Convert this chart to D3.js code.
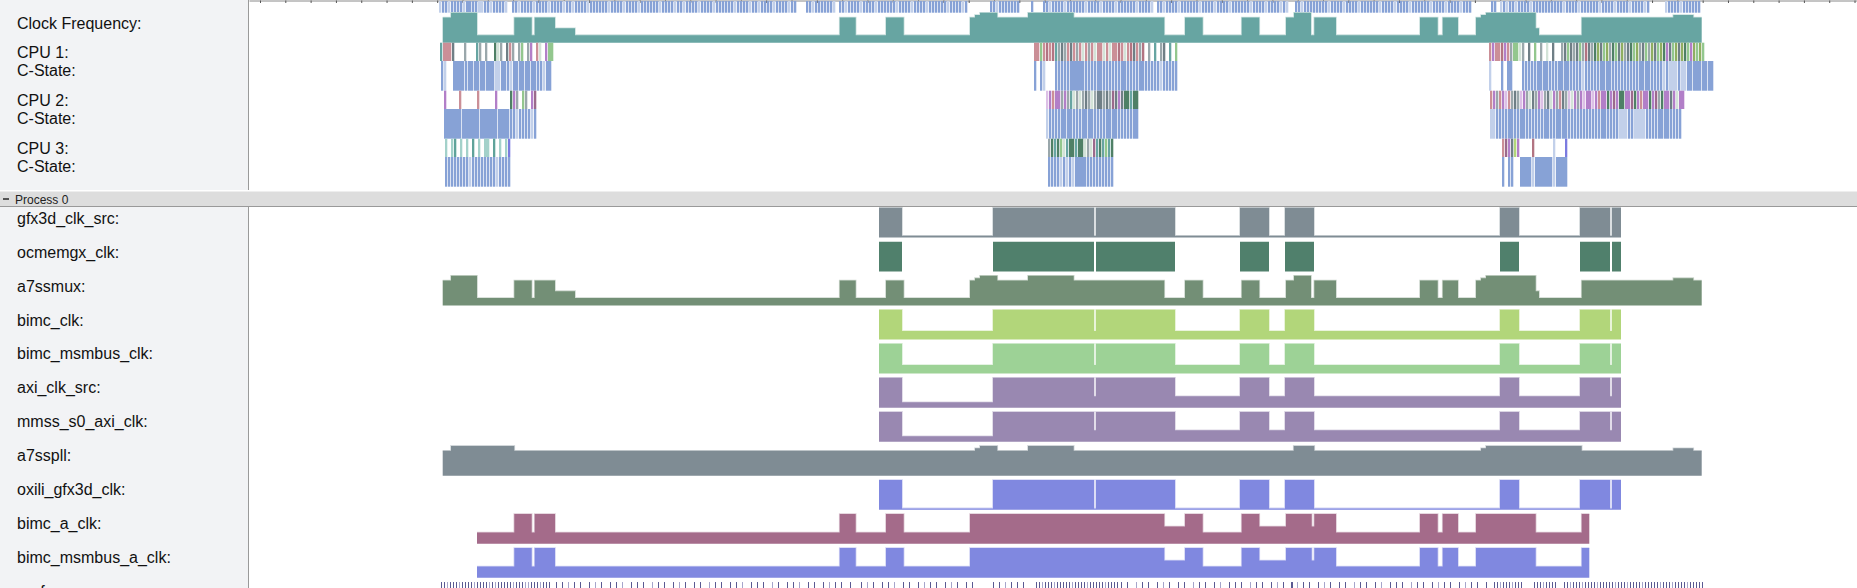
<!DOCTYPE html>
<html><head><meta charset="utf-8">
<script src="https://cdn.jsdelivr.net/npm/d3@7"></script>
<style>
html,body{margin:0;padding:0;background:#fff;overflow:hidden}
svg{display:block;font-family:"Liberation Sans",Arial,sans-serif}
</style></head><body>
<svg id="c" width="1857" height="588"></svg>
<script>
// ---------------- DATA (time in ms from view start) ----------------
const cpuNames = ["CPU 1:", "CPU 2:", "CPU 3:"];
const cstateName = "C-State:";
const clockName = "Clock Frequency:";
const processName = "Process 0";
const counterNames = ["gfx3d_clk_src:", "ocmemgx_clk:", "a7ssmux:", "bimc_clk:", "bimc_msmbus_clk:",
  "axi_clk_src:", "mmss_s0_axi_clk:", "a7sspll:", "oxili_gfx3d_clk:", "bimc_a_clk:", "bimc_msmbus_a_clk:", "perf:"];

// Clock frequency (MHz), step values; times has one more entry (end)
const clockFreqTimes = [193.7,202,228,265.3,282.7,285.7,306,326,590.7,606.7,637,654.7,721,726,731,748.3,779,824.7,915.3,936,953.7,992.7,1010.3,1037,1045,1062,1065.3,1087,1171,1188.7,1193.7,1209,1227,1232,1237,1286.7,1290,1332.7,1424.3,1444.3,1452.7];
const clockFreqMHz = [998,1190,300,998,300,998,576,300,998,300,998,300,998,1094,1190,998,1190,998,300,998,300,998,300,998,1190,300,998,300,998,300,998,300,998,1094,1190,576,300,998,1094,998];

// GPU related clocks share the same change points
const gpuTimes = [630,653,744,845,847,926,991,1020,1036,1065,1251,1270,1331,1361,1363,1372];
const gfx3dClkSrc   = [100,5.5,100,5.5,100,5.5,100,5.5,100,5.5,100,5.5,100,5.5,100];
const ocmemgxClk    = [100,0,100,0,100,0,100,0,100,0,100,0,100,0,100];
const bimcClk       = [100,29,100,29,100,29,100,29,100,29,100,29,100,29,100];
const bimcMsmbusClk = [100,29,100,29,100,29,100,29,100,29,100,29,100,29,100];
const axiClkSrc     = [100,18,100,38,100,38,100,38,100,38,100,38,100,38,100];
const mmssS0AxiClk  = [100,18,100,38,100,38,100,38,100,38,100,38,100,38,100];
const oxiliGfx3dClk = [100,4.5,100,4.5,100,4.5,100,4.5,100,4.5,100,4.5,100,4.5,100];

const a7ssmuxTimes = [193.7,202,228,265.3,282.7,285.7,306,326,590.7,606.7,637,654.7,721,726,731,748.3,779,824.7,915.3,936,953.7,992.7,1010.3,1037,1045,1062,1065.3,1087,1171,1188.7,1193.7,1209,1227,1232,1237,1286.7,1290,1332.7,1424.3,1444.3,1452.7];
const a7ssmuxMHz = [998,1190,300,998,300,998,576,300,998,300,998,300,998,1094,1190,998,1190,998,300,998,300,998,300,998,1190,300,998,300,998,300,998,300,998,1094,1190,576,300,998,1094,998];

const a7ssplTimes = [193.7,202,265.3,726,731,748.3,779,824.7,1044.7,1065.3,1232,1237,1332.7,1424.3,1444.3,1452.7];
const a7ssplMHz = [998,1190,998,1094,1190,998,1190,998,1190,998,1094,1190,998,1094,998];

const bimcATimes = [228,265.3,282.7,285.7,306,590.7,606.7,637,654.7,721,915.3,936,953.7,992.7,1010.3,1037,1062.7,1065.3,1087,1171,1188.7,1193.7,1209,1227,1286.7,1332.7,1340.3];
const bimcAClk       = [38,100,38,100,38,100,38,100,38,100,58,100,38,100,58,100,58,100,38,100,38,100,38,100,38,100];
const bimcMsmbusAClk = [38,100,38,100,38,100,38,100,38,100,58,100,38,100,58,100,58,100,38,100,38,100,38,100,38,100];

// Slice rows: [start ms, one char per 3 ms bucket]  ('.' = nothing)
const BUCKET = 3;
const cpuActivity = [
  [190, "lbBlbBbBlbbBbllbBlbBbBl"],
  [263, "bBlbBbBlbBbBlbBbBlbBlbBbBlbBbBbBlbBbBlbBbBlbBbBbBlbBbBlbBlbBbBlbBbBlbBbBbBlbBbBlbBlbBbBlbBbBlbB"],
  [557, "bBlbBbBbBl.bBlbBbBlbBbBlbBbBbBlbBbBlbBbBlbBbBbBlbBbBlb"],
  [741, "bBlbBbBbBb"],
  [782, "b"],
  [794, "bBlbBbBlbBbBbBlbBbBlbBbBlbBbBbBlbBbBl.bBlbBbBlbBbBbBlbBbBlbBbBlbBbBbBlbBbBlbBbBlbl"],
  [1046, "bBlbBbBbBbBlbBbBlbBbBlbBbBbBlbBbBlbBbBlbBbBbBlbBbBlbBbBlbBb"],
  [1242, "bB.lblbBlbBbBlbBbBbBbBbBlbBbBlbBbBbBlbBbBlbBbBlbBbBlb.....lbBbBlbBbBbB"]
];
const cpuStates = [
  [[191, "tpppk...a...ta.a..GLa.kpa.ag.av.pL.vgg"],
   [785, "ppgprprtakapkpapLpapLppLpLpprpLprkpar.a.t.ak.t.g"],
   [1240, "pvpprvpaggLa.k.g.a.L.k..akgkakgarkaGokgoaGgkoakGgoakgaokgoGvkgokoGgvogog"]],
  [[195, "v....p.....p.....v....Gva.ga.vm"],
   [797, "wvpvvavatLaLakaLakkakamkvkGGtGG"],
   [1241, "pvapvwpakawvaLkavwakLvapkawLvavwvvwvpvvGvmvGGvvmGvpvvGvmaGvvkvLvv"]],
  [[196, "c.cT.c.c.T.c.cc.T.c.cI"],
   [799, "aGtGgLtGGtGGLaLmtGtgtG"],
   [1253, "pmvkyv....r......l...I"]]
];
const cpuCStates = [
  [[192, "bl..bbbbBbbBBbbBBBllbbBlbbBBbbBBbBlbb"],
   [785, "b.bl...bBbBbBBBBBbBbBbbBbBbBbBBbBbBbbBbBbBlbBbBb"],
   [1240, "l...b.BB...bBbBbBBbbBbBbbBBbBbBlbBbBbBBbbBbBbBbBbBbbBBbBbBlblllbllbbBBBbbBB"]],
  [[195, "bbbbbbBBBBBBbbbbbbBBBBbBlbBbBlb"],
   [797, "lbBbBbbBBbBbBBbbBbBbBBbbBbBbBbb"],
   [1241, "llbBbBbbBbBBbBbBbBbbBbBBbbBbBbBbBbBbBbbBbBblllbBllllBbBbBBbbBbBb"]],
  [[196, "bBbBbBbBlbBbBbBbBlbBbB"],
   [799, "bBbBlblblbbbbBbBbBbBbB"],
   [1253, "b.bB..bbbblBBBBBBlbbbb"]]
];
const perfInstants = [
  [191, "||:|||:||||:||||:|:|||||:|||::|||:|||"],
  [306, "|.|.:.|.|..|.:.|..|.|.:..|.|.|..:.|.|..|.:.|..|.|..:.|.|..|.|.:..|.|.|..:.|..|.|.:..|.|..|.:.|.|..|."],
  [611, "|.:.|..|.|.:..|.|..|.:.|.|..|.:.|..|.|."],
  [743, "|.|.:.|.|.|."],
  [786, "||:|||:|||||:||||:|||||:||||"],
  [871, "|.|..:.|.|..|.:.|..|.|..:.|.|..|.:..|.|.|..:.|.|..|.:.|..|"],
  [1041, "|.:.|.|..|.:.|..|.|..:.|.|..|.:..|.|.|..:.|.|..|.:.|.|..|.:.|.|..|."],
  [1244, "||:|||:|||"],
  [1284, "|||:||||"],
  [1314, "||:|||:||||:|||||:|||:||||:|||||:|||:||||:|||||"]
];
const rulerTicks = d3.range(11, 1608, 25.31);

// ---------------- STYLE ----------------
const sliceColors = {b:"#87a2d6",B:"#87a2d6",l:"#c2d0ea",p:"#cb8f97",r:"#b27482",v:"#b27fc8",w:"#dcc0e6",
  g:"#93c78e",G:"#4f8066",t:"#67a5a2",a:"#9aa7ab",k:"#6f7f86",o:"#8fae62",y:"#b2d67a",L:"#d3e3d8",
  m:"#9b6a8c",c:"#a3d1ca",T:"#5fa39a",I:"#7b7be0"};

const svg = d3.select("#c");
const x = d3.scaleLinear().domain([0, 1608]).range([249, 1857]);

// left panels
svg.append("rect").attr("x",0).attr("y",0).attr("width",248).attr("height",190).attr("fill","#f2f3f5");
svg.append("rect").attr("x",0).attr("y",207).attr("width",248).attr("height",381).attr("fill","#f2f3f5");
svg.append("line").attr("x1",248.5).attr("x2",248.5).attr("y1",0).attr("y2",190).attr("stroke","#9a9a9a");
svg.append("line").attr("x1",248.5).attr("x2",248.5).attr("y1",207).attr("y2",588).attr("stroke","#9a9a9a");

// ruler
const ruler = svg.append("g").attr("transform","translate(0,0.5)")
  .call(d3.axisBottom(x).tickValues(rulerTicks).tickSize(2.5).tickSizeOuter(0).tickFormat(""));
ruler.select(".domain").attr("stroke","#8a8a8a");
ruler.selectAll(".tick line").attr("stroke","#555");

const plot = svg.append("g");

function drawSlices(segs, top, h){
  segs.forEach(([t0, s]) => {
    let i = 0;
    while (i < s.length) {
      const ch = s[i]; let j = i + 1;
      while (j < s.length && s[j] === ch) j++;
      if (ch !== ".") {
        const xa = x(t0 + i*BUCKET), xb = x(t0 + j*BUCKET);
        plot.append("rect").attr("x", xa).attr("y", top)
          .attr("width", Math.max(0.6, xb - xa - 0.7)).attr("height", h)
          .attr("fill", sliceColors[ch]);
      }
      i = j;
    }
  });
}

function drawCounter(times, values, top, h, color, maxV){
  const y = d3.scaleLinear().domain([0, maxV]).range([top + h, top]);
  const pts = times.map((t, i) => ({t, v: values[Math.min(i, values.length - 1)]}));
  const halo = d3.interpolateRgb(color, "#ffffff")(0.65);
  if (values.every(v => v > 0)) {
    const line = d3.line().x(d => x(d.t)).y(d => y(d.v)).curve(d3.curveStepAfter);
    plot.append("path").attr("d", line(pts)).attr("fill","none").attr("stroke", halo).attr("stroke-width", 1.6);
  }
  const area = d3.area().x(d => x(d.t)).y0(top + h).y1(d => y(d.v)).curve(d3.curveStepAfter);
  plot.append("path").attr("d", area(pts)).attr("fill", color);
}

// top section
drawSlices(cpuActivity, 1, 11.7);
drawCounter(clockFreqTimes, clockFreqMHz, 12.7, 30, "#67a5a2", 1190);
for (let c = 0; c < 3; c++) {
  drawSlices(cpuStates[c], 42.7 + 48*c, 18.3);
  drawSlices(cpuCStates[c], 61 + 48*c, 29.7);
}

// labels top
const lab = svg.append("g").attr("font-size", 16).attr("fill", "#111");
lab.append("text").attr("x",17).attr("y",29).text(clockName);
cpuNames.forEach((n, c) => {
  lab.append("text").attr("x",17).attr("y",58.3 + 48*c).text(n);
  lab.append("text").attr("x",17).attr("y",76 + 48*c).text(cstateName);
});

// process header
svg.append("rect").attr("x",0).attr("y",191.5).attr("width",1857).attr("height",15.5).attr("fill","#dddddd");
svg.append("line").attr("x1",0).attr("x2",1857).attr("y1",206.5).attr("y2",206.5).attr("stroke","#999");
svg.append("rect").attr("x",3).attr("y",198).attr("width",6).attr("height",2).attr("fill","#555");
svg.append("text").attr("x",15).attr("y",203.5).attr("font-size",12).attr("fill","#222").text(processName);

// process counters
const trackTop = i => 207.7 + 34.03*i;
const TH = 29.8;
const counters = [
  [gpuTimes, gfx3dClkSrc, "#7f8c94", 100],
  [gpuTimes, ocmemgxClk, "#50806c", 100],
  [a7ssmuxTimes, a7ssmuxMHz, "#738f76", 1190],
  [gpuTimes, bimcClk, "#b2d67a", 100],
  [gpuTimes, bimcMsmbusClk, "#9dd296", 100],
  [gpuTimes, axiClkSrc, "#9988b1", 100],
  [gpuTimes, mmssS0AxiClk, "#9988b1", 100],
  [a7ssplTimes, a7ssplMHz, "#7f8c94", 1190],
  [gpuTimes, oxiliGfx3dClk, "#8088e0", 100],
  [bimcATimes, bimcAClk, "#a46b8a", 100],
  [bimcATimes, bimcMsmbusAClk, "#8088e0", 100]
];
counters.forEach(([t, v, col, mx], i) => drawCounter(t, v, trackTop(i), TH, col, mx));

// instants row
const instTop = trackTop(11);
perfInstants.forEach(([t0, s]) => {
  for (let i = 0; i < s.length; i++) {
    if (s[i] === ".") continue;
    plot.append("rect").attr("x", x(t0 + i*BUCKET + 1)).attr("y", instTop).attr("width", 1).attr("height", 6.3)
      .attr("fill", s[i] === "|" ? "#5a5a92" : "#a5a5cb");
  }
});

counterNames.forEach((n, i) => {
  lab.append("text").attr("x",17).attr("y",224 + 33.87*i).text(n);
});
</script></body></html>
